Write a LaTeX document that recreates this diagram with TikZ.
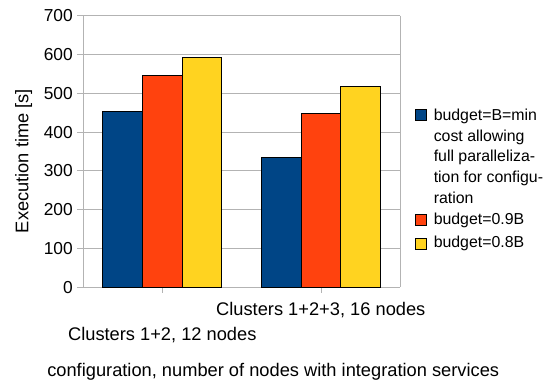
\documentclass[tikz,border=0pt]{standalone}
\usepackage{fontspec}
\setmainfont{Liberation Sans}
\definecolor{ooblue}{HTML}{004586}
\definecolor{oored}{HTML}{FF420E}
\definecolor{ooyellow}{HTML}{FFD320}
\definecolor{grid}{HTML}{B3B3B3}
\tikzset{
  gridline/.style={draw=grid, line width=0.75pt},
  barbox/.style={draw=black, line width=0.7pt},
  ticklab/.style={anchor=east, inner sep=0pt, font=\fontsize{13}{15}\selectfont},
  axtitle/.style={anchor=base, inner sep=0pt, font=\fontsize{13.7}{16}\selectfont},
  legtext/.style={anchor=base west, inner sep=0pt, font=\fontsize{11.9}{14}\selectfont},
}
\begin{document}
\begin{tikzpicture}[x=0.75pt, y=-0.75pt]
\useasboundingbox (0,0) rectangle (544,385);
\fill[white] (0,0) rectangle (544,385);
% y mapping: y = 287.3 - v*0.388
% gridlines and y ticks
\foreach \v in {0,100,...,700}{
  \pgfmathsetmacro{\yy}{287.3-\v*0.388}
  \draw[gridline] (77,\yy) -- (400,\yy);
  \node[ticklab] (t\v) at (73,\yy) {\v};
}
% frame
\draw[gridline] (83,15.7) -- (83,287.3);
\draw[gridline] (400,15.7) -- (400,287.3);
% category ticks
\draw[gridline] (162.3,287.3) -- (162.3,293);
\draw[gridline] (321,287.3) -- (321,293);
% bars group 1
\draw[barbox, fill=ooblue] (102.7,287.3) rectangle (142.4,{287.3-453*0.388});
\draw[barbox, fill=oored] (142.4,287.3) rectangle (182.1,{287.3-545*0.388});
\draw[barbox, fill=ooyellow] (182.1,287.3) rectangle (221.8,{287.3-593*0.388});
% bars group 2
\draw[barbox, fill=ooblue] (261.5,287.3) rectangle (301.2,{287.3-335*0.388});
\draw[barbox, fill=oored] (301.2,287.3) rectangle (340.9,{287.3-447*0.388});
\draw[barbox, fill=ooyellow] (340.9,287.3) rectangle (380.6,{287.3-518*0.388});
% axis titles
\node[axtitle, rotate=90] (ytitle) at (28.5,161) {Execution time [s]};
\node[axtitle] (cat1) at (162.3,340.7) {Clusters 1+2, 12 nodes};
\node[axtitle] (cat2) at (320.8,316) {Clusters 1+2+3, 16 nodes};
\node[axtitle] (xtitle) at (273.2,376.7) {configuration, number of nodes with integration services};
% legend
\draw[barbox, fill=ooblue] (415,109.5) rectangle (426,120.5);
\draw[barbox, fill=oored] (415,214.5) rectangle (426,225.5);
\draw[barbox, fill=ooyellow] (415,238) rectangle (426,249);
\node[legtext] (l1) at (433.5,121) {budget=B=min};
\node[legtext] (l2) at (433.5,141.7) {cost allowing};
\node[legtext] (l3) at (433.5,161.7) {full paralleliza-};
\node[legtext] (l4) at (433.5,182.3) {tion for configu-};
\node[legtext] (l5) at (433.5,203.3) {ration};
\node[legtext] (l6) at (433.5,224.3) {budget=0.9B};
\node[legtext] (l7) at (433.5,247.7) {budget=0.8B};
\end{tikzpicture}
\end{document}
